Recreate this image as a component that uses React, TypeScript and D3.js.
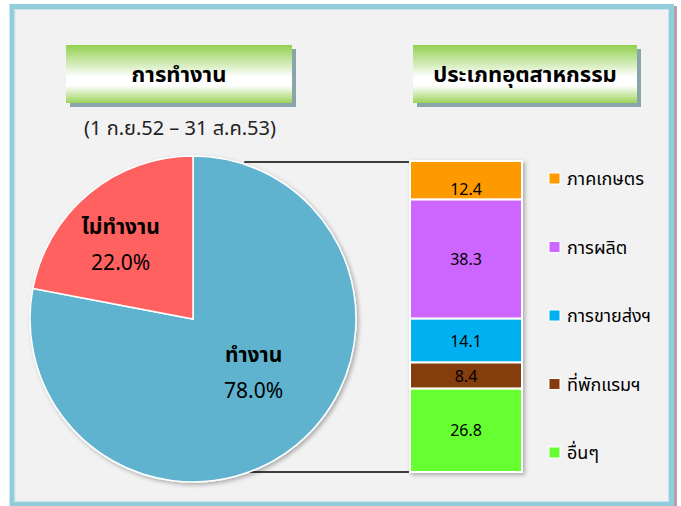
import React from "react";
import * as d3 from "d3";

const pieLabels = ["ทำงาน", "ไม่ทำงาน"];
const pieValues = [78.0, 22.0];
const pieColors = ["#5FB3CE", "#FF6161"];

const industryLabels = ["ภาคเกษตร", "การผลิต", "การขายส่งฯ", "ที่พักแรมฯ", "อื่นๆ"];
const industryValues = [12.4, 38.3, 14.1, 8.4, 26.8];
const industryColors = ["#FF9900", "#CC66FF", "#00B0F0", "#843C0C", "#66FF33"];

const leftTitle = "การทำงาน";
const rightTitle = "ประเภทอุตสาหกรรม";
const subTitle = "(1 ก.ย.52 – 31 ส.ค.53)";

const width = 681;
const height = 506;
const font = "Tahoma, 'Noto Sans Thai', 'Noto Sans', 'DejaVu Sans', sans-serif";

const TitleBox = ({ x, y, w, h, text }: { x: number; y: number; w: number; h: number; text: string }) => (
  <g>
    <rect x={x + 4} y={y + 4} width={w} height={h} fill="#89A5AA" />
    <rect x={x} y={y} width={w} height={h} fill="url(#titleGrad)" />
    <text
      x={x + w / 2}
      y={y + h / 2 + 8}
      textAnchor="middle"
      fontSize={22}
      fontWeight="bold"
      fill="#000"
    >
      {text}
    </text>
  </g>
);

const App = () => {
  // pie
  const cx = 193;
  const cy = 319;
  const r = 163;
  const pie = d3.pie<number>().sort(null).value((d) => d);
  const slices = pie(pieValues);
  const arc = d3.arc<d3.PieArcDatum<number>>().innerRadius(0).outerRadius(r);
  // label placement: radius factor + horizontal nudge (Excel puts them a bit off-centroid)
  const labelFactor = [0.42, 0.6];
  const labelNudge = [17, -10];
  const labelPos = slices.map((s, i) => {
    const c = d3
      .arc<d3.PieArcDatum<number>>()
      .innerRadius(r * labelFactor[i])
      .outerRadius(r * labelFactor[i])
      .centroid(s);
    return [c[0] + labelNudge[i], c[1]];
  });

  // stacked bar
  const barX0 = 410;
  const barX1 = 522;
  const y = d3.scaleLinear().domain([0, d3.sum(industryValues)]).range([161, 472]);
  const cum = d3.cumsum(industryValues);
  const segs = industryValues.map((v, i) => ({
    label: industryLabels[i],
    value: v,
    color: industryColors[i],
    y0: y(cum[i] - v),
    y1: y(cum[i]),
  }));

  const legendY = d3.scalePoint<string>().domain(industryLabels).range([179, 453]);

  // connectors from pie edge to bar
  const topAngle = 0.32;
  const botAngle = Math.PI - 0.35;
  const topPt = [cx + r * Math.sin(topAngle), y(0) + 1];
  const botPt = [cx + r * Math.sin(botAngle), y(d3.sum(industryValues))];

  return (
    <svg
      width={width}
      height={height}
      style={{ position: "absolute", left: 0, top: 0, fontFamily: font }}
    >
      <defs>
        <linearGradient id="titleGrad" x1="0" y1="0" x2="0" y2="1">
          <stop offset="0" stopColor="#92D050" />
          <stop offset="0.55" stopColor="#FFFFFF" />
          <stop offset="0.7" stopColor="#FFFFFF" />
          <stop offset="1" stopColor="#9BD35A" />
        </linearGradient>
        <filter id="shadow" x="-10%" y="-10%" width="130%" height="130%">
          <feDropShadow dx="2" dy="2" stdDeviation="2" floodColor="#000" floodOpacity="0.3" />
        </filter>
      </defs>

      <rect x={0} y={0} width={width} height={height} fill="#FFFFFF" />
      <rect x={674} y={6} width={3} height={500} fill="#B9A0A4" />
      <rect x={12} y={6.5} width={659.5} height={498} fill="#F2F2F2" stroke="#92CDDC" strokeWidth={5} />
      <rect x={15} y={9.5} width={653.5} height={492} fill="none" stroke="#C9E4EC" strokeWidth={1} />

      <TitleBox x={66} y={45} w={226} h={58} text={leftTitle} />
      <TitleBox x={413} y={45} w={224} h={58} text={rightTitle} />
      <text x={180} y={135} textAnchor="middle" fontSize={20} fill="#222">
        {subTitle}
      </text>

      {/* connector lines */}
      <line x1={topPt[0]} y1={topPt[1]} x2={barX0 + 17} y2={topPt[1]} stroke="#000" strokeWidth={1.5} />
      <line x1={botPt[0]} y1={botPt[1]} x2={barX0 + 17} y2={botPt[1]} stroke="#000" strokeWidth={1.5} />

      {/* pie */}
      <g transform={`translate(${cx},${cy})`} filter="url(#shadow)">
        {slices.map((s, i) => (
          <path key={i} d={arc(s) || ""} fill={pieColors[i]} stroke="#FFFFFF" strokeWidth={1.5} />
        ))}
      </g>
      <g transform={`translate(${cx},${cy})`}>
        {slices.map((s, i) => (
          <text
            key={i}
            x={labelPos[i][0]}
            y={labelPos[i][1]}
            textAnchor="middle"
            fontSize={21}
            fill="#000"
          >
            <tspan x={labelPos[i][0]} dy={-10} fontWeight="bold">
              {pieLabels[i]}
            </tspan>
            <tspan x={labelPos[i][0]} dy={36}>
              {`${pieValues[i].toFixed(1)}%`}
            </tspan>
          </text>
        ))}
      </g>

      {/* stacked bar */}
      <g filter="url(#shadow)">
        {segs.map((s, i) => (
          <rect
            key={i}
            x={barX0}
            y={s.y0}
            width={barX1 - barX0}
            height={s.y1 - s.y0}
            fill={s.color}
            stroke="#FFFFFF"
            strokeWidth={2}
          />
        ))}
      </g>
      {segs.map((s, i) => (
        <text
          key={i}
          x={(barX0 + barX1) / 2}
          y={i === 0 ? s.y1 - 5 : (s.y0 + s.y1) / 2 + 6}
          textAnchor="middle"
          fontSize={16}
          fill="#000"
        >
          {s.value.toFixed(1)}
        </text>
      ))}

      {/* legend */}
      {industryLabels.map((l, i) => (
        <g key={l} transform={`translate(549,${legendY(l)})`}>
          <rect x={0} y={-6} width={11} height={11} fill={industryColors[i]} stroke="#FFFFFF" strokeWidth={1} />
          <text x={18} y={6} fontSize={18} fill="#000">
            {l}
          </text>
        </g>
      ))}
    </svg>
  );
};

export default App;
